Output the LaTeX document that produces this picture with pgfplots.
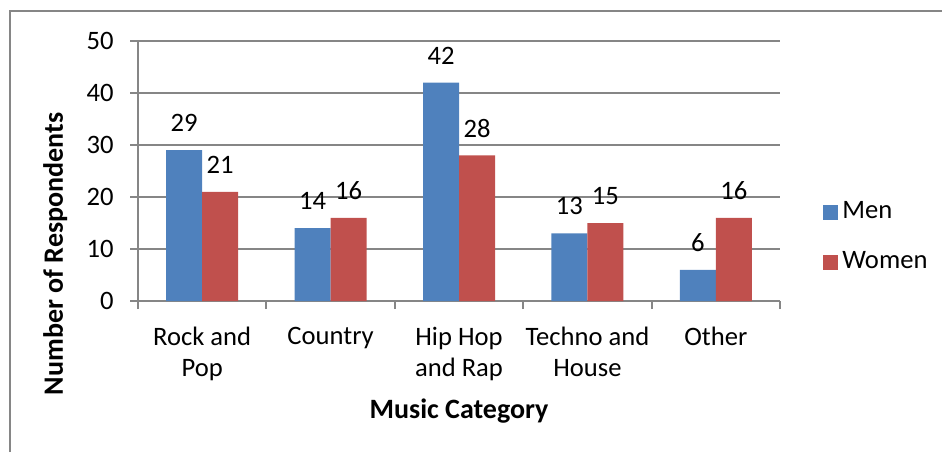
\documentclass[border=0pt]{standalone}
\usepackage{fontspec}
\setmainfont{Carlito}
\usepackage{pgfplots}
\pgfplotsset{compat=1.18}
\definecolor{menblue}{RGB}{79,129,189}
\definecolor{womenred}{RGB}{192,80,77}
\definecolor{gridgray}{RGB}{134,134,134}
\begin{document}
\fontsize{13}{15.5}\selectfont
\begin{tikzpicture}
\useasboundingbox (0,0) rectangle (471pt,226pt);
\draw[gridgray, line width=1pt] (5pt,0) -- (5pt,220.5pt) -- (471pt,220.5pt);
\begin{axis}[
  at={(69pt,75.5pt)}, anchor=south west,
  scale only axis, width=321pt, height=130pt,
  ybar=0pt, bar width=18pt,
  xmin=-0.5, xmax=4.5, ymin=0, ymax=50,
  axis x line*=bottom, axis y line*=left,
  axis line style={gridgray, line width=1pt},
  ymajorgrids, grid style={gridgray, line width=1pt},
  tick align=outside, major tick length=4pt,
  tick style={gridgray, line width=1pt},
  ytick={0,10,...,50},
  xtick={-0.5,0.5,...,4.5}, xticklabels={},
  extra x ticks={0,1,2,3,4},
  extra x tick labels={{Rock and\\Pop},Country,{Hip Hop\\and Rap},{Techno and\\House},Other},
  extra x tick style={major tick length=0pt, grid=none},
  xticklabel style={align=center, anchor=north, inner sep=0pt, yshift=-13pt},
  yticklabel style={anchor=east, inner sep=0pt, xshift=-8pt},
  /pgf/number format/assume math mode=true,
  ticklabel style={font=\fontsize{13.3}{15.5}\selectfont},
  xlabel={\bfseries Music Category},
  xlabel style={at={(axis description cs:0.5,-0.425)}, anchor=center, font=\fontsize{14}{16}\selectfont},
  ylabel={\bfseries Number of Respondents},
  ylabel style={at={(axis description cs:-0.129,0.181)}, anchor=center, font=\fontsize{14}{16}\selectfont},
  nodes near coords,
  every node near coord/.append style={anchor=center, yshift=13.5pt, inner sep=0pt, text=black, font=\fontsize{13.3}{15.5}\selectfont},
  legend style={at={(axis description cs:1.067,0.245)}, anchor=west, draw=none, fill=none,
    inner sep=0pt, row sep=10.5pt, cells={anchor=west}, font=\fontsize{13.3}{15.5}\selectfont},
  legend image code/.code={\path[#1] (0pt,-3.75pt) rectangle (7.5pt,3.75pt);},
]
\addplot[fill=menblue, draw=none] coordinates {(0,29) (1,14) (2,42) (3,13) (4,6)};
\addplot[fill=womenred, draw=none] coordinates {(0,21) (1,16) (2,28) (3,15) (4,16)};
\legend{Men,Women}
\end{axis}
\end{tikzpicture}
\end{document}
